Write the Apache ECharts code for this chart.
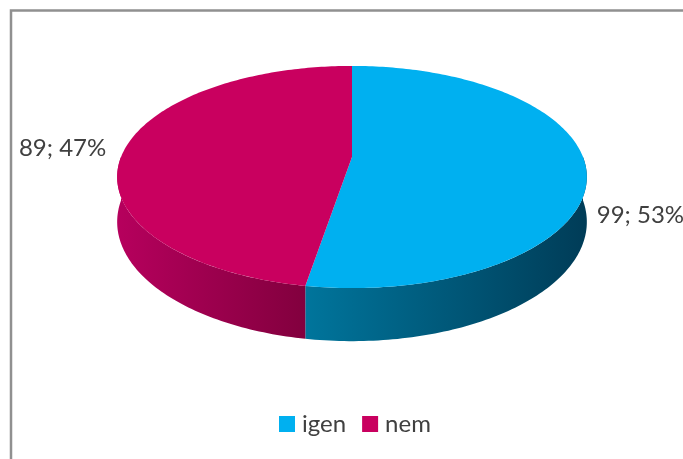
<!DOCTYPE html>
<html>
<head>
<meta charset="utf-8">
<script src="https://cdn.jsdelivr.net/npm/echarts@6/dist/echarts.min.js"></script>
<style>
  html, body { margin: 0; padding: 0; background: #ffffff; }
  #chart { width: 683px; height: 459px; }
</style>
</head>
<body>
<div id="chart"></div>
<script>
// Válaszok megoszlása
const categories = ['igen', 'nem'];
const values = [99, 89];

// Colours: top face and the two ends of the shaded outer wall
const topColors = ['#00B0F0', '#C9005F'];
const wallColors = [['#00759C', '#003C57'], ['#B6005D', '#82003E']];

// Pie geometry: a tilted disc seen with mild perspective
// (persp > 0 shrinks the far side and enlarges the near side)
const PIE = { cx: 352, cy: 157, r: 231, ry: 107.5, depth: 43.5, persp: 0.18, startAngle: 90 };
const LABEL_FONT = '24px Lato';
const TEXT_COLOR = '#404040';

const total = values.reduce((a, b) => a + b, 0);

function sliceAngles(idx) {
  let start = PIE.startAngle;
  for (let k = 0; k < idx; k++) start -= values[k] / total * 360;
  const end = start - values[idx] / total * 360;
  return { start, end };
}

// project a point of the rim (angle in degrees); lower = true gives the bottom rim
function pt(deg, lower) {
  const t = deg * Math.PI / 180;
  const w = 1 + PIE.persp * Math.sin(t);
  return [
    PIE.cx + PIE.r * Math.cos(t) / w,
    PIE.cy - PIE.ry * Math.sin(t) / w + (lower ? PIE.depth / w : 0)
  ];
}

function arc(a, b, lower) {
  const n = Math.max(2, Math.ceil(Math.abs(b - a)));
  const pts = [];
  for (let i = 0; i <= n; i++) pts.push(pt(a + (b - a) * i / n, lower));
  return pts;
}

function renderSlice(idx) {
  return function (params, api) {
    const { start, end } = sliceAngles(idx);
    const children = [];

    // Front wall: portions of the slice lying on the near half of the disc
    for (let k = -2; k <= 1; k++) {
      const lo = -180 + 360 * k, hi = 360 * k;
      const a = Math.max(end, lo), b = Math.min(start, hi);
      if (b - a > 0.01) {
        children.push({
          type: 'polygon',
          shape: { points: arc(a, b, false).concat(arc(b, a, true)) },
          style: {
            fill: {
              type: 'linear', x: 0, y: 0, x2: 1, y2: 0,
              colorStops: [
                { offset: 0, color: wallColors[idx][0] },
                { offset: 1, color: wallColors[idx][1] }
              ]
            }
          }
        });
      }
    }

    // Top face
    children.push({
      type: 'polygon',
      shape: { points: [[PIE.cx, PIE.cy]].concat(arc(start, end, false)) },
      style: { fill: topColors[idx] }
    });

    // Data label "value; percent"
    const mid = (start + end) / 2;
    const p = pt(mid, false);
    const left = Math.cos(mid * Math.PI / 180) < 0;
    const pct = Math.round(values[idx] / total * 100);
    children.push({
      type: 'text',
      style: {
        text: values[idx] + '; ' + pct + '%',
        x: left ? p[0] - 19 : p[0] + 11,
        y: left ? p[1] : p[1] + 49,
        fill: TEXT_COLOR,
        font: LABEL_FONT,
        textAlign: left ? 'right' : 'left',
        textVerticalAlign: 'middle'
      }
    });

    return { type: 'group', children };
  };
}

const chart = echarts.init(document.getElementById('chart'), null, { renderer: 'canvas' });

chart.setOption({
  animation: false,
  backgroundColor: '#ffffff',
  graphic: [{
    type: 'rect',
    z: -10,
    shape: { x: 11, y: 10.5, width: 700, height: 480 },
    style: { fill: 'none', stroke: '#909090', lineWidth: 2.5 }
  }],
  legend: {
    data: categories,
    left: 274,
    top: 407,
    icon: 'rect',
    itemWidth: 16,
    itemHeight: 16,
    itemGap: 16,
    textStyle: { fontFamily: 'Lato', fontSize: 24, color: TEXT_COLOR, padding: [0, 0, 0, 2] }
  },
  series: categories.map((name, i) => ({
    type: 'custom',
    name: name,
    coordinateSystem: 'none',
    itemStyle: { color: topColors[i] },
    renderItem: renderSlice(i),
    data: [[values[i]]]
  }))
});
</script>
</body>
</html>
